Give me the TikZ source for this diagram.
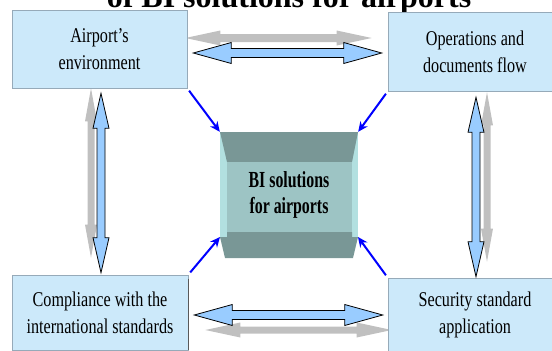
\documentclass[tikz,border=0pt]{standalone}
\usepackage{fontspec}
\setmainfont{Liberation Serif}
\newfontfamily\boxfont[FakeStretch=0.77,Ligatures=TeX]{Liberation Serif}
\newfontfamily\bifont[FakeStretch=0.69,Ligatures=TeX]{Liberation Serif}
\usetikzlibrary{calc}
\usetikzlibrary{arrows.meta}
\definecolor{boxfill}{RGB}{204,233,250}
\definecolor{boxedge}{RGB}{150,170,185}
\definecolor{arrowfill}{RGB}{153,204,255}
\definecolor{shadowgray}{RGB}{192,192,192}
\definecolor{bidark}{RGB}{121,151,150}
\definecolor{bimid}{RGB}{157,196,196}
\definecolor{biside}{RGB}{178,224,224}
\pgfdeclarelayer{background}
\pgfsetlayers{background,main}
% style, from, to, head length, head half width, shaft half width
\newcommand{\fatarrow}[6]{%
  \filldraw[#1] (#2)
  -- ($(#2)!#4!(#3)!#5!90:(#3)$) -- ($(#2)!#4!(#3)!#6!90:(#3)$)
  -- ($(#3)!#4!(#2)!#6!-90:(#2)$) -- ($(#3)!#4!(#2)!#5!-90:(#2)$)
  -- (#3)
  -- ($(#3)!#4!(#2)!#5!90:(#2)$) -- ($(#3)!#4!(#2)!#6!90:(#2)$)
  -- ($(#2)!#4!(#3)!#6!-90:(#3)$) -- ($(#2)!#4!(#3)!#5!-90:(#3)$)
  -- cycle;}

\begin{document}
\begin{tikzpicture}[x=1pt,y=-1pt,
  box/.style={fill=boxfill,draw=boxedge,line width=0.6pt,align=center,inner sep=0pt,
    font=\boxfont\fontsize{21}{27}\selectfont},
  feed/.style={blue,line width=2pt,shorten <=3pt,-{Stealth[length=10pt,width=9pt]}},
  fatblue/.style={fill=arrowfill,draw=black,line width=0.8pt,line join=miter},
  fatgray/.style={fill=shadowgray,draw=none}]
\useasboundingbox (0,0) rectangle (552,351);
% title, cut by the page
\node[anchor=base,font=\bfseries\fontsize{32}{36}\selectfont] (title) at (289,7) {of BI solutions for airports};
% the four boxes
\node[box,minimum width=175pt,minimum height=78pt] (airport) at (99.5,49) {Airport’s\\environment};
\node[box,minimum width=174pt,minimum height=79pt] (operations) at (475,51.5) {Operations and\\documents flow};
\node[box,minimum width=176pt,minimum height=75pt] (compliance) at (100,312.5) {Compliance with the\\international standards};
\node[box,minimum width=174pt,minimum height=74pt] (security) at (475,315) {Security standard\\application};
\draw[gray!70!black,line width=1pt] ($(compliance.north east)+(0,4)$) -- (compliance.south east);
% centre box
\node[minimum width=138pt,minimum height=126pt,align=center,
  font=\bifont\bfseries\fontsize{23}{26}\selectfont] (bi) at (289,195) {BI solutions\\for airports};
\coordinate (bisw) at (220,237);
\coordinate (bise) at (358,237);
\begin{pgfonlayer}{background}
\fill[biside] (220,132) rectangle (358,237);
\fill[bidark] (220,132)--(358,132)--(352,162)--(227,162)--cycle;
\fill[bimid] (227,162) rectangle (352,232);
\fill[bidark] (227,232)--(352,232)--(352,237)--(358,237)--(353,258)--(225,258)--(220,237)--(227,237)--cycle;
% grey shadows of the big arrows
\coordinate (gt1) at ($(airport.east)+(-2,-11)$);
\coordinate (gt2) at ($(operations.west)+(-16,-13.5)$);
\coordinate (gl1) at ($(airport.south)+(-8.5,0)$);
\coordinate (gl2) at ($(compliance.north)+(-9,-17)$);
\coordinate (gr1) at ($(operations.south)+(12,1)$);
\coordinate (gr2) at ($(security.north)+(12,-16)$);
\coordinate (gb1) at ($(compliance.east)+(17,17.5)$);
\coordinate (gb2) at ($(security.west)+(4,15)$);
\fatarrow{fatgray}{gt1}{gt2}{35pt}{7.5pt}{4pt}
\fatarrow{fatgray}{gl1}{gl2}{33pt}{6pt}{3.5pt}
\fatarrow{fatgray}{gr1}{gr2}{33pt}{6pt}{3.5pt}
\fatarrow{fatgray}{gb1}{gb2}{35pt}{7.5pt}{3.5pt}
\end{pgfonlayer}
% big double arrows
\coordinate (bt1) at ($(airport.east)+(6,4)$);
\coordinate (bt2) at ($(operations.west)+(-6,1.5)$);
\coordinate (bl1) at ($(airport.south)+(1.5,5)$);
\coordinate (bl2) at ($(compliance.north)+(1,-2)$);
\coordinate (br1) at ($(operations.south)+(1,6)$);
\coordinate (br2) at ($(security.north)+(1,-1)$);
\coordinate (bb1) at ($(compliance.east)+(6,2.5)$);
\coordinate (bb2) at ($(security.west)+(-5,0)$);
\fatarrow{fatblue}{bt1}{bt2}{38pt}{10.5pt}{4.5pt}
\fatarrow{fatblue}{bl1}{bl2}{35pt}{8pt}{4pt}
\fatarrow{fatblue}{br1}{br2}{35pt}{8pt}{4pt}
\fatarrow{fatblue}{bb1}{bb2}{38pt}{10.5pt}{4.5pt}
% feeds into the centre
\draw[feed] (airport.south east) -- (bi.north west);
\draw[feed] (operations.south west) -- (bi.north east);
\draw[feed] (compliance.north east) -- (bisw);
\draw[feed] (security.north west) -- (bise);
\end{tikzpicture}
\end{document}
